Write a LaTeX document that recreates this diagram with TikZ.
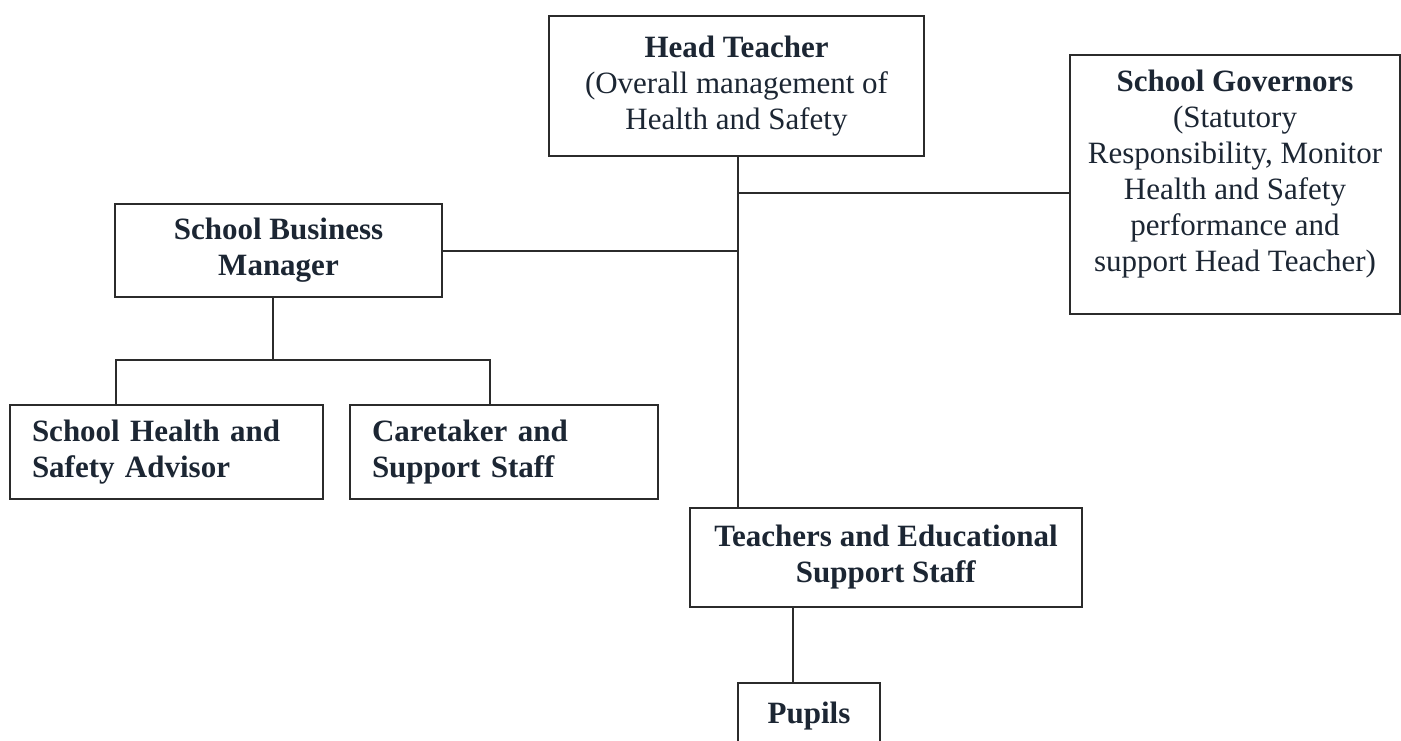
\documentclass[tikz,border=0pt]{standalone}
\usepackage{fontspec}
\setmainfont{Liberation Serif}
\definecolor{boxcol}{HTML}{2B2B2B}
\definecolor{txtcol}{HTML}{1C2633}
\begin{document}
\begin{tikzpicture}[x=1pt,y=-1pt,
  box/.style={draw=boxcol, line width=2.2pt, inner sep=0pt, text=txtcol,
    font=\fontsize{31}{36}\selectfont, align=center},
  lbox/.style={box, align=left},
  plain/.style={inner sep=0pt, text=txtcol, font=\fontsize{31}{36}\selectfont, align=center},
  conn/.style={draw=boxcol, line width=2pt}]
\useasboundingbox (0,0) rectangle (1401,740);
\clip (0,0) rectangle (1401,740);
\fill[white] (0,0) rectangle (1401,740);

\node[box, minimum width=375pt, minimum height=140pt] (head) at (736.5,86)
  {\textbf{Head Teacher}\\(Overall management of\\Health and Safety};
\node[box, minimum width=330pt, minimum height=259pt] (gov) at (1235,184.5) {};
\node[plain] (govtext) at (1235,174)
  {\textbf{School Governors}\\(Statutory\\Responsibility, Monitor\\Health and Safety\\performance and\\support Head Teacher)};
\node[box, minimum width=327pt, minimum height=93pt] (sbm) at (278.5,250.5)
  {\textbf{School Business}\\\textbf{Manager}};
\node[lbox, minimum width=313pt, minimum height=94pt, text width=269pt] (shsa) at (166.5,452)
  {\textbf{School Health and}\\\textbf{Safety Advisor}};
\node[lbox, minimum width=308pt, minimum height=94pt, text width=264pt] (care) at (504,452)
  {\textbf{Caretaker and}\\\textbf{Support Staff}};
\node[box, minimum width=392pt, minimum height=99pt] (teach) at (886,557.5)
  {\textbf{Teachers and Educational}\\\textbf{Support Staff}};
\node[box, minimum width=142pt, minimum height=66pt] (pupils) at (809,716)
  {\textbf{Pupils}};

\coordinate (tx) at (738,300);
\coordinate (j1) at (738,193);
\coordinate (bar) at (273,360);
\coordinate (lb) at (116,360);
\coordinate (rb) at (490,360);
\coordinate (px) at (793,640);

\draw[conn] (tx |- head.south) -- (tx |- teach.north);
\draw[conn] (j1) -- (j1 -| gov.west);
\draw[conn] (sbm.east) -- (sbm.east -| tx);
\draw[conn] (bar |- sbm.south) -- (bar);
\draw[conn] (lb |- shsa.north) -- (lb) -- (rb) -- (rb |- care.north);
\draw[conn] (px |- teach.south) -- (px |- pupils.north);
\end{tikzpicture}
\end{document}
